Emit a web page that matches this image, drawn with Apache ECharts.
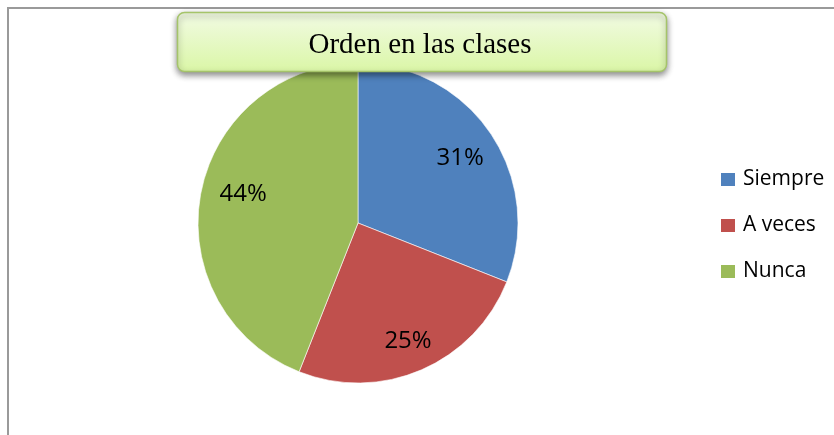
<!DOCTYPE html>
<html>
<head>
<meta charset="utf-8">
<script src="https://cdn.jsdelivr.net/npm/echarts@6/dist/echarts.min.js"></script>
<style>
html,body{margin:0;padding:0;background:#fff;}
#chart{width:834px;height:435px;}
</style>
</head>
<body>
<div id="chart"></div>
<script>
const titleText = 'Orden en las clases';
const categories = ['Siempre', 'A veces', 'Nunca'];
const values = [31, 25, 44];
const colors = ['#4F81BD', '#C0504D', '#9BBB59'];

const chart = echarts.init(document.getElementById('chart'), null, {renderer: 'canvas'});
const data = categories.map((c, i) => ({name: c, value: values[i], itemStyle: {color: colors[i]}}));
const labelNudge = [[-2, 6], [0, 3], [9, -5]];

chart.setOption({
  animation: false,
  backgroundColor: '#fff',
  legend: {
    orient: 'vertical',
    left: 721,
    top: 169,
    padding: 0,
    itemWidth: 14,
    itemHeight: 13,
    itemGap: 25,
    icon: 'rect',
    selectedMode: false,
    data: categories,
    itemStyle: {borderWidth: 0},
    textStyle: {fontFamily: 'Open Sans', fontSize: 21, color: '#000', padding: [0, 0, 0, 3]}
  },
  graphic: [
    {type: 'rect', z: -10, silent: true, shape: {x: 8, y: 8, width: 1000, height: 1000},
     style: {fill: 'none', stroke: '#9a9a9a', lineWidth: 2}},
    {type: 'rect', z: 100, silent: true, shape: {x: 177.5, y: 12.5, width: 489, height: 59, r: 7},
     style: {
       fill: new echarts.graphic.LinearGradient(0, 0, 0, 1, [
         {offset: 0, color: '#F2FBE4'}, {offset: 1, color: '#DAF6A6'}
       ]),
       stroke: '#A5C46A', lineWidth: 1.5,
       shadowBlur: 6, shadowOffsetX: 0, shadowOffsetY: 3, shadowColor: 'rgba(0,0,0,0.45)'
     }},
    {type: 'text', z: 101, silent: true, x: 420, y: 45,
     style: {text: titleText, fontFamily: 'Liberation Serif', fontSize: 29, fill: '#000',
             align: 'center', verticalAlign: 'middle'}}
  ],
  series: [
    {
      type: 'pie',
      center: [358, 223],
      radius: [0, 160],
      startAngle: 90,
      clockwise: true,
      avoidLabelOverlap: false,
      silent: true,
      label: {show: false},
      labelLine: {show: false},
      itemStyle: {borderColor: '#ffffff', borderWidth: 0.6},
      emphasis: {disabled: true},
      data: data
    },
    {
      type: 'pie',
      center: [358, 223],
      radius: [86, 160],
      startAngle: 90,
      clockwise: true,
      avoidLabelOverlap: false,
      silent: true,
      legendHoverLink: false,
      itemStyle: {color: 'rgba(0,0,0,0)', borderWidth: 0},
      label: {show: true, position: 'inside', formatter: '{d}%', fontFamily: 'Open Sans', fontSize: 24, color: '#000'},
      labelLine: {show: false},
      emphasis: {disabled: true},
      data: categories.map((c, i) => ({name: c, value: values[i],
        itemStyle: {color: 'rgba(0,0,0,0)'}, label: {offset: labelNudge[i]}}))
    }
  ]
});
</script>
</body>
</html>
